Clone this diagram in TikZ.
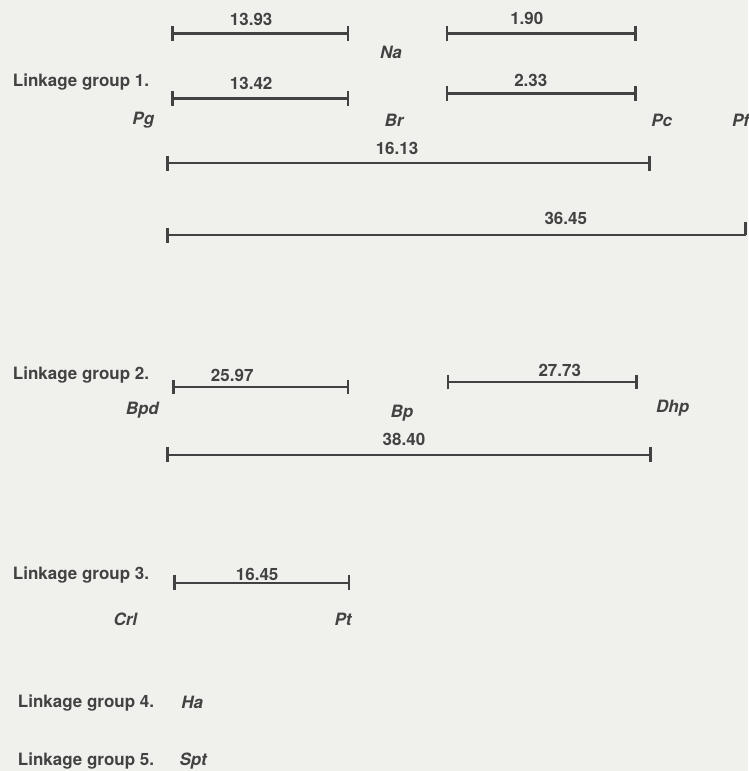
\documentclass[tikz,border=0pt]{standalone}
\usepackage{fontspec}
\setmainfont{TeX Gyre Heros}
\usepackage{tikz}
\usetikzlibrary{arrows.meta}
\usepackage{color}

\definecolor{inkcol}{rgb}{0.26,0.26,0.26}
\definecolor{papercol}{rgb}{0.94,0.94,0.93}
\tikzset{
  mapbar/.style={draw=inkcol, line width=2.4bp, {Bar[width=15bp]}-{Bar[width=15bp]}},
  dist/.style={text=inkcol, inner sep=0pt, font=\fontsize{17bp}{20bp}\selectfont\bfseries},
  locus/.style={dist, font=\fontsize{17bp}{20bp}\selectfont\bfseries\itshape},
  grouplabel/.style={dist, anchor=west},
}

\begin{document}
\begin{tikzpicture}[line join=bevel,]
\pgfsetlinewidth{1bp}
%%
\begin{scope}
\pgfsetstrokecolor{papercol}
\pgfsetfillcolor{papercol}
\filldraw (0.0bp,0.0bp) -- (0.0bp,771.0bp) -- (748.0bp,771.0bp) -- (748.0bp,0.0bp) -- cycle;
\end{scope}
\useasboundingbox (0.0bp,0.0bp) rectangle (748.0bp,771.0bp);
%
% Group: 1
\node[grouplabel] (g1) at (12.0bp,689.0bp) {Linkage group 1.};
\coordinate (a1) at (171.0bp,738.0bp);
\coordinate (a2) at (349.0bp,738.0bp);
\coordinate (b1) at (446.0bp,738.0bp);
\coordinate (b2) at (637.0bp,738.0bp);
\coordinate (c1) at (171.0bp,673.0bp);
\coordinate (c2) at (349.0bp,673.0bp);
\coordinate (d1) at (446.0bp,678.0bp);
\coordinate (d2) at (637.0bp,678.0bp);
\coordinate (e1) at (166.0bp,608.0bp);
\coordinate (e2) at (651.0bp,608.0bp);
\coordinate (f1) at (166.0bp,536.0bp);
\coordinate (f2) at (746.0bp,536.0bp);
\coordinate (f3) at (746.0bp,549.0bp);
% Edge: Pg -> Br, Na -> Pc
\draw [mapbar] (a1) -- (a2);
\draw [mapbar] (b1) -- (b2);
\draw [mapbar] (c1) -- (c2);
\draw [mapbar] (d1) -- (d2);
% Edge: Pg -> Pc, Pg -> Pf
\draw [mapbar] (e1) -- (e2);
\draw [mapbar, {Bar[width=15bp]}-] (f1) -- (f2);
\draw [draw=inkcol, line width=2.4bp] (f2) -- (f3);
% Node: distances
\node[dist] (d1393) at (251.0bp,752.0bp) {13.93};
\node[dist] (d190) at (527.0bp,753.0bp) {1.90};
\node[dist] (d1342) at (251.0bp,688.0bp) {13.42};
\node[dist] (d233) at (531.0bp,691.0bp) {2.33};
\node[dist] (d1613) at (397.0bp,623.0bp) {16.13};
\node[dist] (d3645) at (566.0bp,553.0bp) {36.45};
% Node: loci
\node[locus] (na) at (391.0bp,719.0bp) {Na};
\node[locus] (pg) at (143.0bp,651.0bp) {Pg};
\node[locus] (br) at (394.0bp,651.0bp) {Br};
\node[locus] (pc) at (662.0bp,651.0bp) {Pc};
\node[locus] (pf) at (741.0bp,651.0bp) {Pf};
%
% Group: 2
\node[grouplabel] (g2) at (12.0bp,396.0bp) {Linkage group 2.};
\coordinate (g2a) at (172.0bp,384.0bp);
\coordinate (g2b) at (349.0bp,384.0bp);
\coordinate (h1) at (447.0bp,389.0bp);
\coordinate (h2) at (638.0bp,389.0bp);
\coordinate (i1) at (166.0bp,316.0bp);
\coordinate (i2) at (652.0bp,316.0bp);
% Edge: Bpd -> Bp, Bp -> Dhp, Bpd -> Dhp
\draw [mapbar] (g2a) -- (g2b);
\draw [mapbar] (h1) -- (h2);
\draw [mapbar] (i1) -- (i2);
\node[dist] (d2597) at (232.0bp,396.0bp) {25.97};
\node[dist] (d2773) at (560.0bp,401.0bp) {27.73};
\node[dist] (d3840) at (404.0bp,331.0bp) {38.40};
\node[locus] (bpd) at (142.0bp,361.0bp) {Bpd};
\node[locus] (bp) at (402.0bp,358.0bp) {Bp};
\node[locus] (dhp) at (673.0bp,363.0bp) {Dhp};
%
% Group: 3
\node[grouplabel] (g3) at (12.0bp,196.0bp) {Linkage group 3.};
\coordinate (j1) at (173.0bp,188.0bp);
\coordinate (j2) at (350.0bp,188.0bp);
% Edge: Crl -> Pt
\draw [mapbar] (j1) -- (j2);
\node[dist] (d1645) at (257.0bp,196.0bp) {16.45};
\node[locus] (crl) at (125.0bp,151.0bp) {Crl};
\node[locus] (pt) at (343.0bp,151.0bp) {Pt};
%
% Group: 4, 5
\node[grouplabel] (g4) at (17.0bp,68.0bp) {Linkage group 4.};
\node[locus] (ha) at (192.0bp,68.0bp) {Ha};
\node[grouplabel] (g5) at (17.0bp,9.0bp) {Linkage group 5.};
\node[locus] (spt) at (193.0bp,9.0bp) {Spt};
%
\end{tikzpicture}
\end{document}
